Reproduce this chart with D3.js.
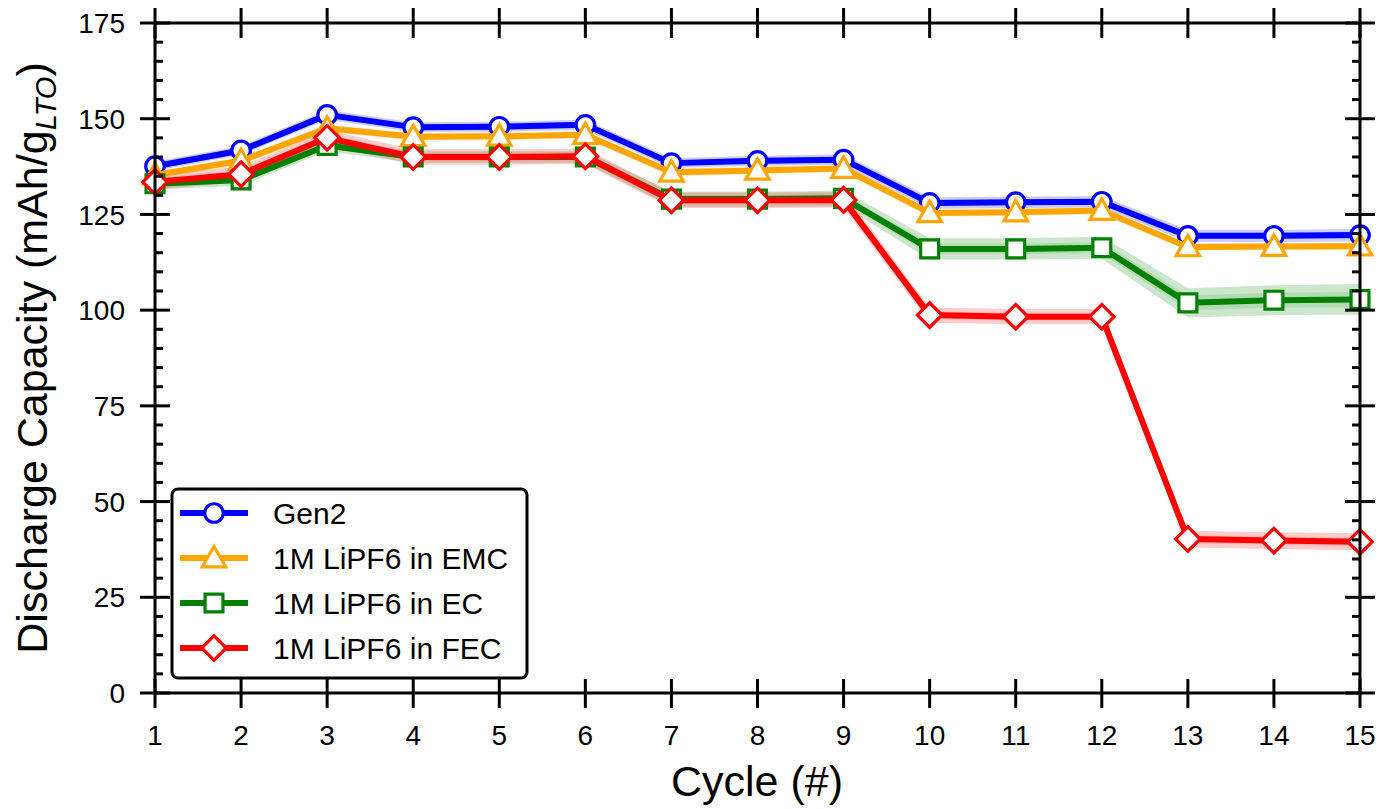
<!DOCTYPE html>
<html><head><meta charset="utf-8">
<script src="https://cdn.jsdelivr.net/npm/d3@7"></script>
<style>body{margin:0;background:#fff}svg{display:block;font-family:"Liberation Sans",Arial,sans-serif}</style>
</head><body>
<svg id="c" width="1379" height="809"></svg>
<script>
const cycles = [1,2,3,4,5,6,7,8,9,10,11,12,13,14,15];
const gen2 = [137.6,141.7,151.0,147.8,147.9,148.4,138.4,139.0,139.3,128.0,128.2,128.3,119.4,119.4,119.6];
const emc  = [135.3,139.0,147.5,145.3,145.4,145.8,136.0,136.5,137.0,125.4,125.6,126.0,116.5,116.6,116.7];
const ec   = [133.0,134.0,143.0,140.0,140.0,140.0,129.0,129.0,129.2,116.0,116.0,116.3,101.9,102.6,102.8];
const fec  = [133.5,135.5,145.0,140.0,140.0,140.2,128.7,128.7,128.8,98.7,98.3,98.3,40.2,39.8,39.5];
const errGen2 = [1.2,1.2,1.3,1.3,1.3,1.3,1.3,1.3,1.4,1.5,1.5,1.5,1.6,1.6,1.6];
const errEmc  = [1.0,1.0,1.0,1.0,1.0,1.0,1.0,1.0,1.0,1.0,1.0,1.0,1.0,1.0,1.0];
const errEc   = [1.5,1.5,1.5,1.5,1.5,1.5,2.0,2.0,2.0,2.8,2.8,2.9,3.8,3.9,4.0];
const errFec  = [2.0,2.0,2.0,2.0,2.0,2.0,2.0,2.0,2.0,2.0,2.0,2.0,2.2,2.2,2.2];
const seriesNames = ["Gen2","1M LiPF6 in EMC","1M LiPF6 in EC","1M LiPF6 in FEC"];
const yTicks = [0,25,50,75,100,125,150,175];

const colors = ["#0000ff","#ffa500","#008000","#ff0000"];
const data = [gen2, emc, ec, fec];
const errs = [errGen2, errEmc, errEc, errFec];

function markerPath(i){
  if(i===0) return d3.symbol().type(d3.symbolCircle).size(270)();
  if(i===1) return d3.symbol().type(d3.symbolTriangle).size(240)();
  if(i===2) return d3.symbol().type(d3.symbolSquare).size(320)();
  return d3.symbol().type(d3.symbolSquare).size(300)();
}
function markerTf(i){
  if(i===1) return " translate(0,2)";
  if(i===3) return " rotate(45)";
  return "";
}

const svg = d3.select("#c");
const L = 155, R = 1360, T = 23, B = 693;
const x = d3.scaleLinear().domain([1,15]).range([L,R]);
const y = d3.scaleLinear().domain([0,175]).range([B,T]);

// bands
data.forEach((s,i)=>{
  const area = d3.area().x((d,j)=>x(cycles[j])).y0((d,j)=>y(d-errs[i][j])).y1((d,j)=>y(d+errs[i][j]));
  svg.append("path").datum(s).attr("d",area).attr("fill",colors[i]).attr("opacity",0.2);
  const area2 = d3.area().x((d,j)=>x(cycles[j])).y0((d,j)=>y(d-errs[i][j]*0.5)).y1((d,j)=>y(d+errs[i][j]*0.5));
  svg.append("path").datum(s).attr("d",area2).attr("fill",colors[i]).attr("opacity",0.12);
});

// series
data.forEach((s,i)=>{
  const line = d3.line().x((d,j)=>x(cycles[j])).y(d=>y(d));
  svg.append("path").datum(s).attr("d",line).attr("fill","none").attr("stroke",colors[i]).attr("stroke-width",6).attr("stroke-linejoin","round");
  svg.selectAll(null).data(s).enter().append("path")
    .attr("d",markerPath(i))
    .attr("transform",(d,j)=>`translate(${x(cycles[j])},${y(d)})`+markerTf(i))
    .attr("fill","#fff").attr("stroke",colors[i]).attr("stroke-width",3.2);
});

// frame
svg.append("rect").attr("x",L).attr("y",T).attr("width",R-L).attr("height",B-T).attr("fill","none").attr("stroke","#000").attr("stroke-width",3);

const ax = svg.append("g").attr("stroke","#000").attr("stroke-width",3);
yTicks.forEach(v=>{
  ax.append("line").attr("x1",L-15).attr("x2",L+15).attr("y1",y(v)).attr("y2",y(v));
  ax.append("line").attr("x1",R-15).attr("x2",R+15).attr("y1",y(v)).attr("y2",y(v));
});
d3.range(0,176,5).filter(v=>v%25!==0).forEach(v=>{
  ax.append("line").attr("x1",L).attr("x2",L+8).attr("y1",y(v)).attr("y2",y(v));
  ax.append("line").attr("x1",R-8).attr("x2",R).attr("y1",y(v)).attr("y2",y(v));
});
cycles.forEach(c=>{
  ax.append("line").attr("x1",x(c)).attr("x2",x(c)).attr("y1",B-14).attr("y2",B+15);
  ax.append("line").attr("x1",x(c)).attr("x2",x(c)).attr("y1",T-15).attr("y2",T+15);
});

// tick labels
svg.selectAll(null).data(yTicks).enter().append("text")
  .attr("x",L-30).attr("y",d=>y(d)).attr("dy","0.36em").attr("text-anchor","end")
  .attr("font-size",28).text(d=>d);
svg.selectAll(null).data(cycles).enter().append("text")
  .attr("x",d=>x(d)).attr("y",745).attr("text-anchor","middle")
  .attr("font-size",28).text(d=>d);

// axis titles
svg.append("text").attr("x",757).attr("y",796).attr("text-anchor","middle").attr("font-size",43).text("Cycle (#)");
const yl = svg.append("text").attr("transform",`translate(47,${(T+B)/2}) rotate(-90)`).attr("text-anchor","middle").attr("font-size",43);
yl.append("tspan").text("Discharge Capacity (mAh/g");
yl.append("tspan").attr("font-size",29).attr("font-style","italic").attr("dy",9).text("LTO");
yl.append("tspan").attr("dy",-9).text(")");

// legend
const lg = svg.append("g");
lg.append("rect").attr("x",172).attr("y",489).attr("width",355).attr("height",189).attr("rx",6)
  .attr("fill","#fff").attr("stroke","#000").attr("stroke-width",3);
seriesNames.forEach((n,i)=>{
  const yy = 513 + i*45;
  lg.append("line").attr("x1",180).attr("x2",248).attr("y1",yy).attr("y2",yy).attr("stroke",colors[i]).attr("stroke-width",6);
  lg.append("path").attr("d",markerPath(i))
    .attr("transform",`translate(214,${yy})`+markerTf(i))
    .attr("fill","#fff").attr("stroke",colors[i]).attr("stroke-width",3.2);
  lg.append("text").attr("x",273).attr("y",yy).attr("dy","0.36em").attr("font-size",30).text(n);
});
</script>
</body></html>
